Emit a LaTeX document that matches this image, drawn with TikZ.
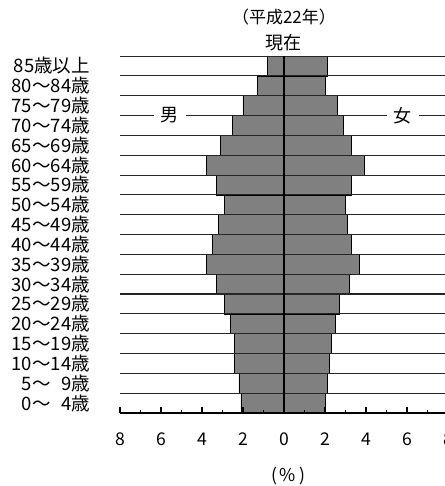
\documentclass[tikz,border=0pt]{standalone}
\usepackage{fontspec}
\setmainfont{Noto Sans CJK JP}
\usepackage{tikz}
\usetikzlibrary{positioning}

\tikzset{
  bar/.style={draw=black, line width=0.6pt, fill=gray},
  rowline/.style={black!85, line width=0.9pt},
  agelabel/.style={anchor=east, inner sep=0pt, font=\fontsize{15.8}{16}\selectfont},
  ticklabel/.style={inner sep=0pt, font=\fontsize{15}{16}\selectfont},
  sexlabel/.style={fill=white, inner xsep=0.2cm, inner ysep=0pt, font=\fontsize{15.4}{16}\selectfont},
}

\begin{document}
\begin{tikzpicture}[x=0.615cm, y=0.595cm]
\useasboundingbox (-13.854,-3.681) rectangle (7.854,20.827);
% bars (male left, female right)
\draw[bar] (-0.8,17) rectangle (0,18) (0,17) rectangle (2.1,18);
\draw[bar] (-1.3,16) rectangle (0,17) (0,16) rectangle (2.0,17);
\draw[bar] (-2.0,15) rectangle (0,16) (0,15) rectangle (2.6,16);
\draw[bar] (-2.5,14) rectangle (0,15) (0,14) rectangle (2.9,15);
\draw[bar] (-3.1,13) rectangle (0,14) (0,13) rectangle (3.3,14);
\draw[bar] (-3.8,12) rectangle (0,13) (0,12) rectangle (3.9,13);
\draw[bar] (-3.3,11) rectangle (0,12) (0,11) rectangle (3.3,12);
\draw[bar] (-2.9,10) rectangle (0,11) (0,10) rectangle (3.0,11);
\draw[bar] (-3.2,9) rectangle (0,10) (0,9) rectangle (3.1,10);
\draw[bar] (-3.5,8) rectangle (0,9) (0,8) rectangle (3.3,9);
\draw[bar] (-3.8,7) rectangle (0,8) (0,7) rectangle (3.7,8);
\draw[bar] (-3.3,6) rectangle (0,7) (0,6) rectangle (3.2,7);
\draw[bar] (-2.9,5) rectangle (0,6) (0,5) rectangle (2.7,6);
\draw[bar] (-2.6,4) rectangle (0,5) (0,4) rectangle (2.5,5);
\draw[bar] (-2.4,3) rectangle (0,4) (0,3) rectangle (2.3,4);
\draw[bar] (-2.4,2) rectangle (0,3) (0,2) rectangle (2.2,3);
\draw[bar] (-2.2,1) rectangle (0,2) (0,1) rectangle (2.1,2);
\draw[bar] (-2.1,0) rectangle (0,1) (0,0) rectangle (2.0,1);
% row lines
\draw[rowline] (-8,18) -- (8,18) (-8,17) -- (8,17) (-8,16) -- (8,16) (-8,15) -- (8,15);
\draw[rowline] (-8,14) -- (8,14) (-8,13) -- (8,13) (-8,12) -- (8,12) (-8,11) -- (8,11);
\draw[rowline] (-8,10) -- (8,10) (-8,9) -- (8,9) (-8,8) -- (8,8) (-8,7) -- (8,7);
\draw[rowline] (-8,6) -- (8,6) (-8,5) -- (8,5) (-8,4) -- (8,4) (-8,3) -- (8,3);
\draw[rowline] (-8,2) -- (8,2) (-8,1) -- (8,1);
\draw[black, line width=1.7pt] (0,0) -- (0,18);
% axis and ticks
\draw[black, line width=1.7pt] (-8,0) -- (8,0);
\draw[black, line width=1.2pt] (-8,0) -- (-8,0.28) (-6,0) -- (-6,0.28) (-4,0) -- (-4,0.28) (-2,0) -- (-2,0.28);
\draw[black, line width=1.2pt] (2,0) -- (2,0.28) (4,0) -- (4,0.28) (6,0) -- (6,0.28) (8,0) -- (8,0.28);
\draw[black, line width=1.2pt] (-7,0) -- (-7,0.17) (-5,0) -- (-5,0.17) (-3,0) -- (-3,0.17) (-1,0) -- (-1,0.17);
\draw[black, line width=1.2pt] (1,0) -- (1,0.17) (3,0) -- (3,0.17) (5,0) -- (5,0.17) (7,0) -- (7,0.17);
\node[ticklabel] (tm8) at (-8,-1.31) {8};
\node[ticklabel] (tm6) at (-6,-1.31) {6};
\node[ticklabel] (tm4) at (-4,-1.31) {4};
\node[ticklabel] (tm2) at (-2,-1.31) {2};
\node[ticklabel] (t0) at (0,-1.31) {0};
\node[ticklabel] (tf2) at (2,-1.31) {2};
\node[ticklabel] (tf4) at (4,-1.31) {4};
\node[ticklabel] (tf6) at (6,-1.31) {6};
\node[ticklabel] (tf8) at (8,-1.31) {8};
\node[ticklabel] (unit) at (0.2,-3.18) {(\,\%\,)};
% age labels
\node[agelabel] (a85) at (-9.46,17.5) {85歳以上};
\node[agelabel] (a80) at (-9.46,16.5) {80〜84歳};
\node[agelabel] (a75) at (-9.46,15.5) {75〜79歳};
\node[agelabel] (a70) at (-9.46,14.5) {70〜74歳};
\node[agelabel] (a65) at (-9.46,13.5) {65〜69歳};
\node[agelabel] (a60) at (-9.46,12.5) {60〜64歳};
\node[agelabel] (a55) at (-9.46,11.5) {55〜59歳};
\node[agelabel] (a50) at (-9.46,10.5) {50〜54歳};
\node[agelabel] (a45) at (-9.46,9.5) {45〜49歳};
\node[agelabel] (a40) at (-9.46,8.5) {40〜44歳};
\node[agelabel] (a35) at (-9.46,7.5) {35〜39歳};
\node[agelabel] (a30) at (-9.46,6.5) {30〜34歳};
\node[agelabel] (a25) at (-9.46,5.5) {25〜29歳};
\node[agelabel] (a20) at (-9.46,4.5) {20〜24歳};
\node[agelabel] (a15) at (-9.46,3.5) {15〜19歳};
\node[agelabel] (a10) at (-9.46,2.5) {10〜14歳};
\node[agelabel] (a05) at (-9.46,1.5) {5〜\phantom{0}9歳};
\node[agelabel] (a00) at (-9.46,0.5) {0〜\phantom{0}4歳};
% sex labels and titles
\node[sexlabel] (male) at (-5.56,15) {男};
\node[sexlabel] (female) at (5.8,15) {女};
\node[font=\fontsize{14.5}{15}\selectfont] (year) at (0,19.97) {（平成22年）};
\node[font=\fontsize{15.4}{16}\selectfont] (now) at (0,18.66) {現在};
\end{tikzpicture}
\end{document}
